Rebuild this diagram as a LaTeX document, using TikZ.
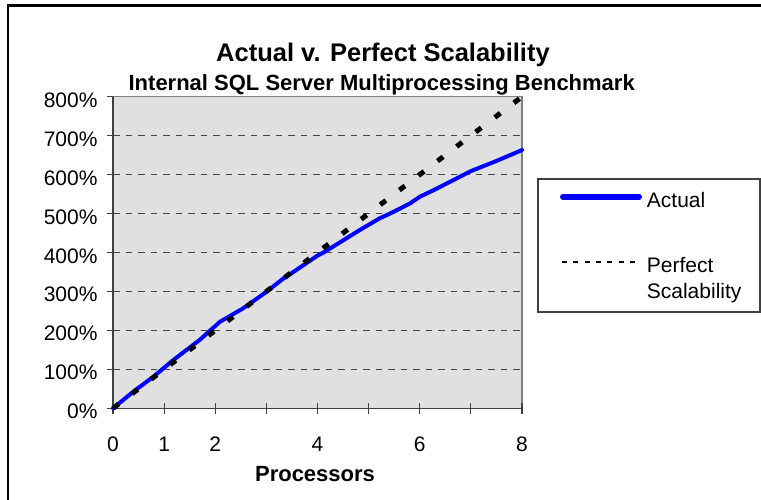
\documentclass[tikz,border=0pt]{standalone}
\usepackage{fontspec}
\setmainfont{Liberation Sans}
\definecolor{plotbg}{RGB}{224,224,224}
\definecolor{axisgray}{RGB}{64,64,64}
\definecolor{bordergray}{RGB}{128,128,128}
\definecolor{gridgray}{RGB}{70,70,70}
\definecolor{actualblue}{RGB}{0,0,255}
\begin{document}
\begin{tikzpicture}[x=1pt,y=-1pt,
  lab/.style={font=\fontsize{21}{24}\selectfont, inner sep=0pt},
  ttl/.style={font=\bfseries\fontsize{25.5}{28}\selectfont, inner sep=0pt, anchor=base},
  subttl/.style={font=\bfseries\fontsize{22}{25}\selectfont, inner sep=0pt, anchor=base},
  gridline/.style={gridgray, line width=1.1pt, dash pattern=on 6.5pt off 6pt},
  axisline/.style={axisgray, line width=1.5pt},
  tickline/.style={axisgray, line width=1.2pt},
  actualline/.style={actualblue, line width=4pt, line join=round, line cap=round},
  perfectline/.style={black, line width=5pt, dash pattern=on 7pt off 17pt},
  legborder/.style={draw=axisgray, line width=1.3pt}]
\useasboundingbox (0,0) rectangle (761,500);
\fill[white] (0,0) rectangle (761,500);
% outer chart frame
\draw[line width=2.5pt] (8,506) -- (8,5.3) -- (770,5.3);
% titles
\node[ttl] (title) at (383,61.7) {Actual v. Perfect Scalability};
\node[subttl] (subtitle) at (381.7,90.5) {Internal SQL Server Multiprocessing Benchmark};
% plot area
\fill[plotbg] (113,96.7) rectangle (522,408.3);
\draw[bordergray, line width=1.3pt] (113,96.7) -- (522,96.7) -- (522,408.3);
\foreach \v in {1,...,7} {
  \pgfmathsetmacro\yy{408.3-\v*38.95}
  \draw[gridline] (113,\yy) -- (521,\yy);
}
% axes
\draw[axisline] (113,96.7) -- (113,408.3) -- (522,408.3);
\foreach \v in {0,...,8} {
  \pgfmathsetmacro\yy{408.3-\v*38.95}
  \pgfmathtruncatemacro\pc{\v*100}
  \draw[tickline] (107,\yy) -- (113,\yy);
  \node[lab, anchor=base east] (ylab\v) at (97.7,\yy+10.5) {\pc\%};
}
\foreach \i in {0,...,8} {
  \pgfmathsetmacro\xx{113+\i*51.125}
  \draw[tickline] (\xx,403) -- (\xx,414);
}
\foreach \i in {0,1,2,4,6,8} {
  \pgfmathsetmacro\xx{113+\i*51.125}
  \node[lab, anchor=base] (xlab\i) at (\xx,451.7) {\i};
}
\node[subttl] (xtitle) at (315,481) {Processors};
% data
\begin{scope}[shift={(113,408.3)}, x=51.125pt, y=0.3895pt]
  \draw[actualline] (0,0) -- (0.4,43) -- (0.79,81) -- (1.18,124) -- (1.7,176)
    -- (2.09,222) -- (2.55,257) -- (3,299) -- (3.33,333) -- (3.46,344)
    -- (4,392) -- (4.12,400) -- (4.5,431) -- (4.83,458) -- (5.22,488) -- (5.42,500)
    -- (5.81,526) -- (6,543) -- (6.3,562) -- (6.6,582) -- (7,609) -- (7.5,635) -- (8,663);
  \draw[perfectline] (0,0) -- (8,800);
\end{scope}
% legend
\draw[legborder] (538,179) rectangle (760,312);
\draw[actualblue, line width=6pt, line cap=round] (563,196.7) -- (639,196.7);
\node[lab, anchor=base west] (legact) at (646.7,207.3) {Actual};
\draw[black, line width=2pt, dash pattern=on 5pt off 6.4pt] (561.7,261.7) -- (635,261.7);
\node[lab, anchor=base west] (legperf1) at (646.7,272.7) {Perfect};
\node[lab, anchor=base west] (legperf2) at (646.7,298.5) {Scalability};
\end{tikzpicture}
\end{document}
